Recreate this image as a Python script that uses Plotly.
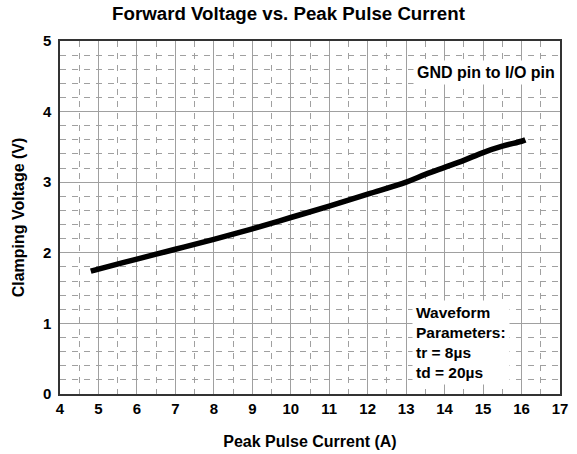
import plotly.graph_objects as go

current_a = [4.8, 5, 6, 7, 8, 9, 10, 11, 12, 13, 13.5, 14, 14.5, 15, 15.5, 16, 16.1]
clamp_v = [1.74, 1.77, 1.91, 2.05, 2.19, 2.34, 2.50, 2.66, 2.83, 3.00, 3.11, 3.21, 3.31, 3.42, 3.51, 3.58, 3.60]

x_ticks = list(range(4, 18))
y_ticks = list(range(0, 6))

FONT = "Liberation Sans, Arial, sans-serif"
GRID = "#a0a0a0"

fig = go.Figure()
fig.add_trace(go.Scatter(x=current_a, y=clamp_v, mode="lines",
                         line=dict(color="black", width=5.5, shape="spline"),
                         showlegend=False, hoverinfo="skip"))

axis_common = dict(
    showgrid=True, gridcolor=GRID, gridwidth=1,
    showline=True, linecolor="#333333", linewidth=1.5, mirror=True,
    zeroline=False, ticks="", automargin=False,
    tickfont=dict(family=FONT, size=15, color="black", weight="bold"),
)

fig.update_xaxes(range=[4, 17], tickvals=x_ticks, ticktext=[str(v) for v in x_ticks],
                 title=dict(text="Peak Pulse Current (A)", font=dict(family=FONT, size=16, color="black", weight="bold"), standoff=20),
                 minor=dict(dtick=0.5, tick0=4, showgrid=True, gridcolor=GRID, griddash="6px,6px", gridwidth=1),
                 **axis_common)
fig.update_yaxes(range=[0, 5], tickvals=y_ticks, ticktext=[str(v) for v in y_ticks],
                 title=dict(text="Clamping Voltage (V)", font=dict(family=FONT, size=16, color="black", weight="bold"), standoff=14),
                 ticklabelstandoff=4,
                 minor=dict(dtick=0.2, tick0=0, showgrid=True, gridcolor=GRID, griddash="6px,6px", gridwidth=1),
                 **axis_common)

fig.add_annotation(x=16.97, y=4.55, xref="x", yref="y", xanchor="right", yanchor="middle",
                   text="GND pin to I/O pin", showarrow=False, bgcolor="white",
                   font=dict(family=FONT, size=16, color="black", weight="bold"), borderpad=3)
fig.add_annotation(x=13.15, y=0.73, xref="x", yref="y", xanchor="left", yanchor="middle", align="left",
                   text="Waveform<br>Parameters:<br>tr = 8µs<br>td = 20µs", showarrow=False, bgcolor="white",
                   font=dict(family=FONT, size=15.5, color="black", weight="bold"), borderpad=3)

fig.update_layout(
    width=577, height=454,
    margin=dict(l=60, r=17, t=41, b=60),
    paper_bgcolor="white", plot_bgcolor="white",
    title=dict(text="Forward Voltage vs. Peak Pulse Current", x=0.5, xanchor="center",
               y=0.97, yanchor="middle", font=dict(family=FONT, size=18.7, color="black", weight="bold")),
)

fig.write_html("out.html", config={"displayModeBar": False},
               post_script="document.body.style.margin='0px';")
